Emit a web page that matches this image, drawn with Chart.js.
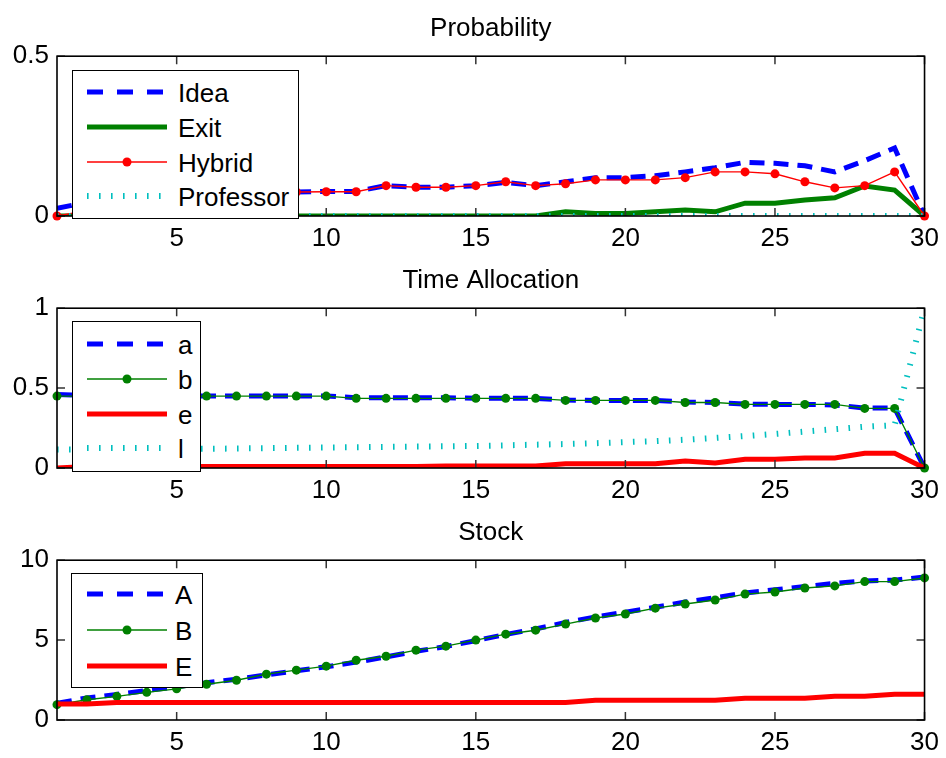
<!DOCTYPE html>
<html>
<head>
<meta charset="utf-8">
<script src="https://cdn.jsdelivr.net/npm/chart.js@4.4.0/dist/chart.umd.min.js"></script>
<style>
  html, body { margin: 0; padding: 0; background: #fff; }
  #wrap { position: relative; width: 946px; height: 758px; overflow: hidden; font-family: "Liberation Sans", Arial, sans-serif; }
  .plot { position: absolute; left: 0; width: 946px; height: 252px; }
  .legbox { position: absolute; border: 1.5px solid #000; background: #fff; box-sizing: border-box; }
  .legtxt { position: absolute; font-size: 26px; line-height: 26px; color: #000; white-space: nowrap; }
  .legsvg { position: absolute; overflow: visible; }
</style>
</head>
<body>
<div id="wrap">
  <div class="plot" style="top:0px"><canvas id="c1" width="946" height="252"></canvas></div>
  <div class="plot" style="top:252px"><canvas id="c2" width="946" height="252"></canvas></div>
  <div class="plot" style="top:504px"><canvas id="c3" width="946" height="252"></canvas></div>
</div>
<script>
// ---- data ----
const steps = [1, 2, 3, 4, 5, 6, 7, 8, 9, 10, 11, 12, 13, 14, 15, 16, 17, 18, 19, 20, 21, 22, 23, 24, 25, 26, 27, 28, 29, 30];
const xTicks = [5, 10, 15, 20, 25, 30];

// Probability
const probTicks = [0, 0.5];
const idea = [0.024, 0.043, 0.05, 0.055, 0.06, 0.065, 0.07, 0.072, 0.075, 0.077, 0.077, 0.095, 0.09, 0.09, 0.095, 0.105, 0.095, 0.107, 0.12, 0.12, 0.126, 0.138, 0.151, 0.168, 0.165, 0.157, 0.138, 0.173, 0.213, 0];
const exitP = [0, 0, 0, 0, 0, 0, 0, 0, 0, 0, 0, 0, 0, 0, 0, 0, 0, 0.013, 0.008, 0.008, 0.013, 0.019, 0.013, 0.04, 0.04, 0.05, 0.057, 0.094, 0.081, 0];
const hybrid = [0, 0.017, 0.035, 0.045, 0.055, 0.062, 0.068, 0.072, 0.075, 0.076, 0.076, 0.095, 0.09, 0.09, 0.095, 0.107, 0.095, 0.101, 0.113, 0.113, 0.113, 0.12, 0.138, 0.138, 0.132, 0.107, 0.088, 0.095, 0.138, 0];
const professor = [0, 0, 0, 0, 0, 0, 0, 0, 0, 0, 0, 0, 0, 0, 0, 0, 0, 0, 0, 0, 0, 0, 0, 0, 0, 0, 0, 0, 0, 0];

// Time Allocation
const timeTicks = [0, 0.5, 1];
const allocA = [0.46, 0.455, 0.455, 0.45, 0.45, 0.45, 0.45, 0.45, 0.45, 0.45, 0.44, 0.44, 0.44, 0.44, 0.436, 0.436, 0.436, 0.425, 0.423, 0.423, 0.423, 0.413, 0.41, 0.4, 0.398, 0.398, 0.395, 0.375, 0.375, 0];
const allocB = [0.45, 0.45, 0.45, 0.45, 0.45, 0.45, 0.45, 0.45, 0.45, 0.45, 0.436, 0.436, 0.436, 0.436, 0.436, 0.436, 0.436, 0.423, 0.423, 0.423, 0.423, 0.41, 0.41, 0.398, 0.398, 0.398, 0.398, 0.373, 0.373, 0];
const allocE = [0, 0.01, 0.01, 0.01, 0.01, 0.01, 0.01, 0.01, 0.01, 0.01, 0.01, 0.01, 0.01, 0.012, 0.012, 0.012, 0.012, 0.027, 0.027, 0.027, 0.027, 0.044, 0.031, 0.054, 0.054, 0.063, 0.063, 0.092, 0.092, 0];
const allocL = [0.115, 0.115, 0.117, 0.118, 0.12, 0.12, 0.122, 0.124, 0.126, 0.128, 0.13, 0.132, 0.134, 0.136, 0.138, 0.142, 0.146, 0.15, 0.155, 0.162, 0.168, 0.177, 0.188, 0.2, 0.213, 0.228, 0.243, 0.258, 0.268, 1];

// Stock
const stockTicks = [0, 5, 10];
const stockA = [1.05, 1.38, 1.6, 1.85, 2.08, 2.33, 2.55, 2.82, 3.08, 3.33, 3.62, 3.95, 4.3, 4.6, 4.97, 5.35, 5.7, 6.1, 6.45, 6.75, 7.05, 7.38, 7.65, 7.95, 8.15, 8.35, 8.55, 8.7, 8.75, 8.95];
const stockB = [0.96, 1.27, 1.48, 1.73, 1.95, 2.24, 2.49, 2.87, 3.12, 3.37, 3.74, 3.99, 4.37, 4.62, 5.0, 5.37, 5.62, 6.0, 6.38, 6.63, 7.0, 7.26, 7.51, 7.88, 8.01, 8.26, 8.39, 8.66, 8.66, 8.89];
const stockE = [1.0, 1.0, 1.1, 1.1, 1.1, 1.1, 1.1, 1.1, 1.1, 1.1, 1.1, 1.1, 1.1, 1.1, 1.1, 1.1, 1.1, 1.1, 1.23, 1.23, 1.23, 1.23, 1.23, 1.36, 1.36, 1.36, 1.48, 1.48, 1.61, 1.61];

// ---- styles ----
const FONT = { family: '"Liberation Sans", Arial, sans-serif', size: 26 };
const BLUE = '#0000ff', GREEN = '#008000', RED = '#ff0000', CYAN = '#00bfbf';

function pts(vals) {
  return steps.map((x, i) => ({ x: x, y: vals[i] }));
}

const styles = {
  dashed: c => ({ borderColor: c, borderWidth: 5, borderDash: [15, 9], pointRadius: 0, clip: 0 }),
  thick: c => ({ borderColor: c, borderWidth: 5, pointRadius: 0, clip: 0 }),
  marker: c => ({ borderColor: c, borderWidth: 1.4, pointRadius: 4.5, pointBackgroundColor: c, pointBorderWidth: 0, clip: false }),
  dotted: c => ({ borderColor: c, borderWidth: 6, borderDash: [1.6, 10.4], pointRadius: 0, clip: 0 })
};

function series(label, vals, kind, color, order) {
  return Object.assign({ label: label, data: pts(vals), order: order, tension: 0 }, styles[kind](color));
}

// box + inward ticks, MATLAB style
const boxPlugin = {
  id: 'box',
  afterDatasetsDraw(chart) {
    const { ctx, chartArea: a, scales } = chart;
    ctx.save();
    ctx.strokeStyle = '#333';
    ctx.lineWidth = 1.5;
    ctx.beginPath();
    scales.x.ticks.forEach(t => {
      const px = scales.x.getPixelForValue(t.value);
      ctx.moveTo(px, a.bottom); ctx.lineTo(px, a.bottom - 8);
      ctx.moveTo(px, a.top); ctx.lineTo(px, a.top + 8);
    });
    scales.y.ticks.forEach(t => {
      const py = scales.y.getPixelForValue(t.value);
      ctx.moveTo(a.left, py); ctx.lineTo(a.left + 8, py);
      ctx.moveTo(a.right, py); ctx.lineTo(a.right - 8, py);
    });
    ctx.stroke();
    ctx.strokeStyle = '#000';
    ctx.lineWidth = 1.6;
    ctx.strokeRect(a.left, a.top, a.right - a.left, a.bottom - a.top);
    ctx.restore();
  }
};

function makeChart(id, title, yMax, yTicks, datasets) {
  return new Chart(document.getElementById(id), {
    type: 'line',
    data: { datasets: datasets },
    plugins: [boxPlugin],
    options: {
      responsive: false,
      animation: false,
      events: [],
      layout: { padding: { left: 0, right: 21, top: 0, bottom: 0 } },
      plugins: {
        legend: { display: false },
        tooltip: { enabled: false },
        title: {
          display: true, text: title, fullSize: false, color: '#000',
          font: Object.assign({ weight: 'normal', lineHeight: 1.2 }, FONT),
          padding: { top: 13, bottom: 12 }
        }
      },
      scales: {
        x: {
          type: 'linear', min: 1, max: 30,
          afterBuildTicks: s => { s.ticks = xTicks.map(v => ({ value: v })); },
          afterFit: s => { s.height = 36; },
          grid: { display: false, drawTicks: false },
          border: { display: false },
          ticks: { color: '#000', font: FONT, padding: 7, maxRotation: 0, autoSkip: false, callback: v => String(v) }
        },
        y: {
          type: 'linear', min: 0, max: yMax,
          afterBuildTicks: s => { s.ticks = yTicks.map(v => ({ value: v })); },
          afterFit: s => { s.width = 57; },
          grid: { display: false, drawTicks: false },
          border: { display: false },
          ticks: { color: '#000', font: FONT, padding: 8, callback: v => String(v) }
        }
      }
    }
  });
}

makeChart('c1', 'Probability', 0.5, probTicks, [
  series('Idea', idea, 'dashed', BLUE, 4),
  series('Exit', exitP, 'thick', GREEN, 3),
  series('Hybrid', hybrid, 'marker', RED, 2),
  series('Professor', professor, 'dotted', CYAN, 1)
]);
makeChart('c2', 'Time Allocation', 1, timeTicks, [
  series('a', allocA, 'dashed', BLUE, 4),
  series('b', allocB, 'marker', GREEN, 3),
  series('e', allocE, 'thick', RED, 2),
  series('l', allocL, 'dotted', CYAN, 1)
]);
makeChart('c3', 'Stock', 10, stockTicks, [
  series('A', stockA, 'dashed', BLUE, 3),
  series('B', stockB, 'marker', GREEN, 2),
  series('E', stockE, 'thick', RED, 1)
]);

// ---- MATLAB-like boxed legends (HTML) ----
const SVGNS = 'http://www.w3.org/2000/svg';
function sample(kind, color, x, y) {
  const svg = document.createElementNS(SVGNS, 'svg');
  svg.setAttribute('class', 'legsvg');
  svg.setAttribute('width', 80); svg.setAttribute('height', 20);
  svg.style.left = x + 'px'; svg.style.top = (y - 10) + 'px';
  const ln = document.createElementNS(SVGNS, 'line');
  ln.setAttribute('x1', 0); ln.setAttribute('x2', 80);
  ln.setAttribute('y1', 10); ln.setAttribute('y2', 10);
  ln.setAttribute('stroke', color);
  ln.setAttribute('stroke-linecap', 'butt');
  if (kind === 'dashed') { ln.setAttribute('stroke-width', 5); ln.setAttribute('stroke-dasharray', '16 14'); }
  if (kind === 'thick') { ln.setAttribute('stroke-width', 5); }
  if (kind === 'marker') { ln.setAttribute('stroke-width', 1.4); }
  if (kind === 'dotted') { ln.setAttribute('stroke-width', 6); ln.setAttribute('stroke-dasharray', '1.6 10.4'); }
  svg.appendChild(ln);
  if (kind === 'marker') {
    const c = document.createElementNS(SVGNS, 'circle');
    c.setAttribute('cx', 40); c.setAttribute('cy', 10); c.setAttribute('r', 4.5);
    c.setAttribute('fill', color);
    svg.appendChild(c);
  }
  return svg;
}

function legend(box, rows, items, textX) {
  const wrap = document.getElementById('wrap');
  const b = document.createElement('div');
  b.className = 'legbox';
  b.style.left = box[0] + 'px'; b.style.top = box[1] + 'px';
  b.style.width = (box[2] - box[0]) + 'px'; b.style.height = (box[3] - box[1]) + 'px';
  wrap.appendChild(b);
  items.forEach((it, i) => {
    wrap.appendChild(sample(it[1], it[2], 87, rows[i]));
    const t = document.createElement('span');
    t.className = 'legtxt';
    t.textContent = it[0];
    t.style.left = textX + 'px';
    t.style.top = (rows[i] - 12) + 'px';
    wrap.appendChild(t);
  });
}

legend([72, 70, 299, 219], [92, 127, 162, 196],
  [['Idea', 'dashed', BLUE], ['Exit', 'thick', GREEN], ['Hybrid', 'marker', RED], ['Professor', 'dotted', CYAN]], 178);
legend([72, 321, 201, 472], [344, 379, 414, 448],
  [['a', 'dashed', BLUE], ['b', 'marker', GREEN], ['e', 'thick', RED], ['l', 'dotted', CYAN]], 178);
legend([71, 573, 203, 688], [594, 630, 666],
  [['A', 'dashed', BLUE], ['B', 'marker', GREEN], ['E', 'thick', RED]], 175);
</script>
</body>
</html>
